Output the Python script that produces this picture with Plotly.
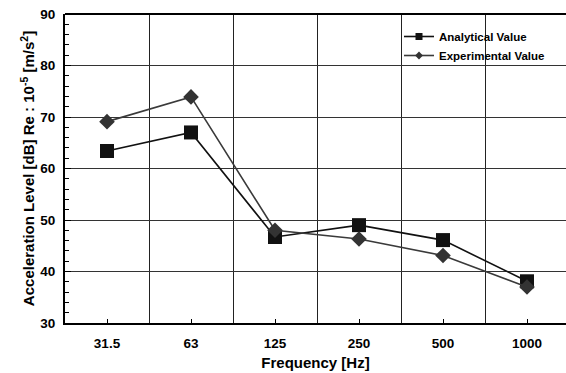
import plotly.graph_objects as go

freq_labels = ["31.5", "63", "125", "250", "500", "1000"]
analytical = [63.4, 67.0, 46.7, 49.0, 46.1, 38.1]
experimental = [69.1, 73.9, 48.0, 46.3, 43.1, 37.0]

x = list(range(len(freq_labels)))
FONT = "Liberation Sans, Arial, sans-serif"

fig = go.Figure()
fig.add_trace(go.Scatter(
    x=x, y=analytical, mode="lines+markers", name="Analytical Value",
    line=dict(color="#111111", width=1.6),
    marker=dict(symbol="square", size=14, color="#111111"),
    showlegend=False))
fig.add_trace(go.Scatter(
    x=x, y=experimental, mode="lines+markers", name="Experimental Value",
    line=dict(color="#3a3a3a", width=1.6),
    marker=dict(symbol="diamond", size=12, color="#333333"),
    showlegend=False))
# legend entries (small symbols as in the reference)
fig.add_trace(go.Scatter(
    x=[None], y=[None], mode="lines+markers", name="Analytical Value",
    line=dict(color="#111111", width=1.6),
    marker=dict(symbol="square", size=7, color="#111111")))
fig.add_trace(go.Scatter(
    x=[None], y=[None], mode="lines+markers", name="Experimental Value",
    line=dict(color="#3a3a3a", width=1.6),
    marker=dict(symbol="diamond", size=6, color="#333333")))

W, H = 566, 373
ml, mt, mb, mr = 65, 14, 50, 0
pw = W - ml - mr
ph = H - mt - mb

def px_x(p):
    return (p - ml) / pw

def px_y(p):
    return 1 - (p - mt) / ph

fig.update_layout(
    width=W, height=H,
    margin=dict(l=ml, r=mr, t=mt, b=mb, autoexpand=False),
    paper_bgcolor="white", plot_bgcolor="white",
    font=dict(family=FONT, size=13, color="black", weight="bold"),
    legend=dict(
        x=px_x(399), y=px_y(22), xanchor="left", yanchor="top",
        bgcolor="rgba(0,0,0,0)", borderwidth=0,
        font=dict(family=FONT, size=11.5, color="black", weight="bold"),
        tracegroupgap=0, itemwidth=30),
    xaxis=dict(
        automargin=False,
        range=[-0.5, -0.5 + pw / 84.0],
        tickvals=x, ticktext=freq_labels,
        ticks="inside", ticklen=4, tickcolor="black",
        ticklabelstandoff=7,
        showgrid=False, zeroline=False,
        showline=True, linecolor="black", linewidth=2, mirror=False,
        minor=dict(tick0=0.5, dtick=1, showgrid=True, gridcolor="#222222",
                   gridwidth=1, ticks=""),
        title=dict(text="Frequency [Hz]", font=dict(size=15, weight="bold"), standoff=7),
        tickfont=dict(size=13.5, weight="bold"),
    ),
    yaxis=dict(
        automargin=False,
        range=[30, 90], tickvals=[30, 40, 50, 60, 70, 80, 90],
        ticks="inside", ticklen=6, tickcolor="black",
        ticklabelstandoff=5,
        showgrid=True, gridcolor="#333333", gridwidth=1, zeroline=False,
        showline=True, linecolor="black", linewidth=2,
        minor=dict(dtick=2, ticks="inside", ticklen=4, tickcolor="black", showgrid=False),
        title=dict(text="Acceleration Level [dB] Re : 10<sup>-5</sup> [m/s<sup>2</sup>]",
                   font=dict(size=15, weight="bold"), standoff=2),
        tickfont=dict(size=13.5, weight="bold"),
    ),
)
# white backdrop behind the legend (hides gridlines, as in the reference)
fig.add_shape(type="rect", xref="paper", yref="paper",
              x0=px_x(405), x1=px_x(560), y0=px_y(62), y1=px_y(25),
              fillcolor="white", line=dict(width=0), layer="between")
# top border
fig.add_shape(type="line", xref="paper", yref="paper", x0=0, x1=1, y0=1, y1=1,
              line=dict(color="black", width=2))

fig.write_html("out.html", config={"displayModeBar": False},
               post_script="document.body.style.margin='0';document.body.style.overflow='hidden';")
